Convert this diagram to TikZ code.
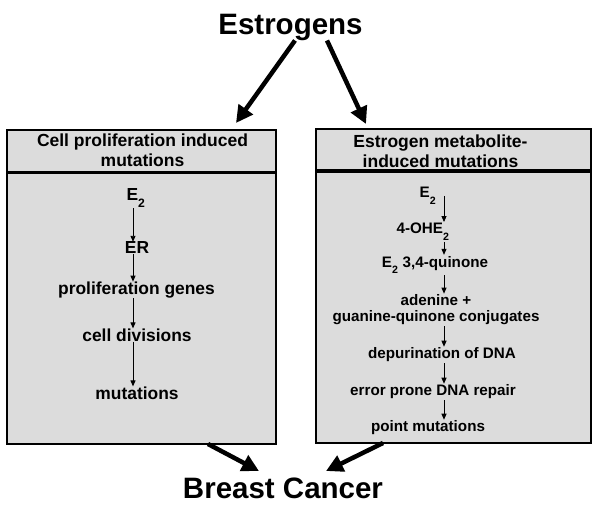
\documentclass[tikz,border=0pt]{standalone}
\usepackage{fontspec}
\setmainfont{Liberation Sans}
\usetikzlibrary{arrows.meta}
\definecolor{boxgray}{RGB}{220,220,220}
\newcommand{\lowsub}[1]{\raisebox{-0.55ex}{\textsubscript{#1}}}
\begin{document}
\begin{tikzpicture}[x=1pt,y=-1pt,
    panel/.style={draw=black,line width=2pt,fill=boxgray,inner sep=0pt},
    title/.style={font=\bfseries\fontsize{29.5}{32}\selectfont,inner sep=0pt},
    head/.style={font=\bfseries\fontsize{17.5}{20}\selectfont,align=center,inner sep=0pt},
    lstep/.style={font=\bfseries\fontsize{17.4}{19}\selectfont,inner sep=0pt},
    rstep/.style={font=\bfseries\fontsize{15.2}{16}\selectfont,align=center,inner sep=1pt},
    bigarrow/.style={line width=4.5pt,-{Triangle[length=17pt,width=17pt]}},
    smallarrow/.style={line width=0.9pt,-{Triangle[length=6pt,width=5pt]}}]
    \useasboundingbox (0,0) rectangle (600,508);
    \node[title] (estrogens) at (290.5,27) {Estrogens};
    \node[title] (cancer) at (283,488) {Breast Cancer};
    \node[panel,minimum width=269pt,minimum height=314pt] (lbox) at (141.5,287) {};
    \node[panel,minimum width=275pt,minimum height=314pt] (rbox) at (453.5,286) {};
    \draw[line width=3pt] ([yshift=-44pt]lbox.north west) -- ([yshift=-44pt]lbox.north east);
    \draw[line width=4pt] ([yshift=-43pt]rbox.north west) -- ([yshift=-43pt]rbox.north east);
    \node[head] (lhead) at (142.5,150) {Cell proliferation induced\\mutations};
    \node[head] (rhead) at (440.5,151) {Estrogen metabolite-\\induced mutations};
    \node[lstep] (le) at (136,198) {E\lowsub{2}};
    \node[lstep] (ler) at (137,248) {ER};
    \node[lstep] (lgenes) at (136.5,290) {proliferation genes};
    \node[lstep] (ldiv) at (137,335) {cell divisions};
    \node[lstep] (lmut) at (137,393) {mutations};
    \coordinate (lcol) at (133,0);
    \draw[smallarrow] (lcol |- le.south) -- (lcol |- ler.north);
    \draw[smallarrow] (lcol |- ler.south) -- (lcol |- lgenes.north);
    \draw[smallarrow] (lcol |- lgenes.south) -- (lcol |- ldiv.north);
    \draw[smallarrow] (lcol |- ldiv.south) -- (lcol |- lmut.north);
    \node[rstep] (re) at (428,196) {E\lowsub{2}};
    \node[rstep] (rohe) at (423,232) {4-OHE\lowsub{2}};
    \node[rstep] (rquin) at (435,265) {E\lowsub{2} 3,4-quinone};
    \node[rstep] (radd) at (436,310) {adenine +\\guanine-quinone conjugates};
    \node[rstep] (rdep) at (442,355) {depurination of DNA};
    \node[rstep] (rrep) at (433,392) {error prone DNA repair};
    \node[rstep] (rpt) at (428,428) {point mutations};
    \coordinate (rcol) at (444,0);
    \draw[smallarrow] (rcol |- re.center) -- (rcol |- rohe.north);
    \draw[smallarrow] (rcol |- rohe.south) -- (rcol |- rquin.north);
    \draw[smallarrow] (rcol |- rquin.south) -- (rcol |- radd.north);
    \draw[smallarrow] (rcol |- radd.south) -- (rcol |- rdep.north);
    \draw[smallarrow] (rcol |- rdep.south) -- (rcol |- rrep.north);
    \draw[smallarrow] (rcol |- rrep.south) -- (rcol |- rpt.north);
    \coordinate (lin) at (236,123);
    \coordinate (rin) at (366,124);
    \coordinate (lout) at (208,444);
    \coordinate (rout) at (383,443);
    \coordinate (cl) at (259,471);
    \coordinate (cr) at (326,471);
    \draw[bigarrow] (estrogens.south -| 295,0) -- (lin);
    \draw[bigarrow] (estrogens.south -| 327,0) -- (rin);
    \draw[bigarrow] (lout) -- (cl);
    \draw[bigarrow] (rout) -- (cr);
\end{tikzpicture}
\end{document}
